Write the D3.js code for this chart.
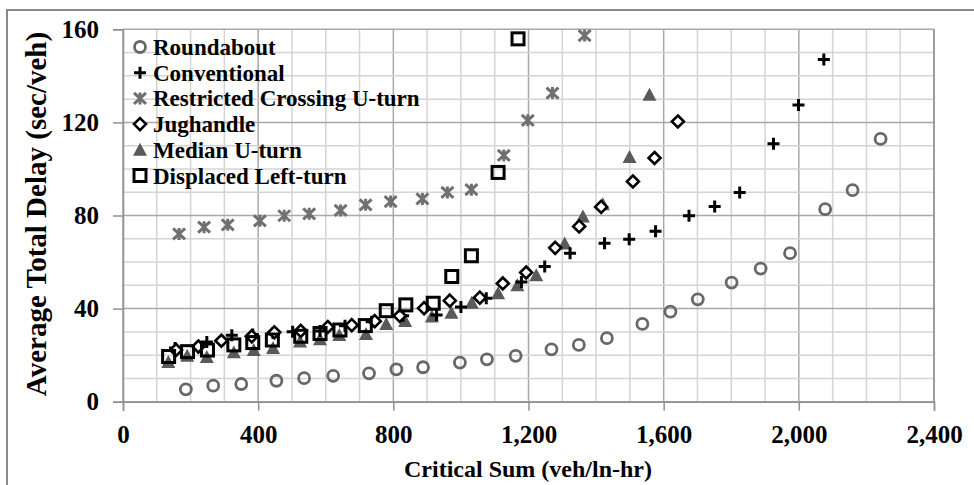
<!DOCTYPE html>
<html><head><meta charset="utf-8">
<script src="https://cdn.jsdelivr.net/npm/d3@7"></script>
<style>body{margin:0;background:#fff}svg{display:block}text{font-family:"Liberation Serif","Times New Roman",serif;font-weight:bold;fill:#000}</style>
</head><body><svg id="c" width="974" height="485"></svg>
<script>
const xTicks = [0, 400, 800, 1200, 1600, 2000, 2400];
const yTicks = [0, 40, 80, 120, 160];
const xTickLabels = ["0", "400", "800", "1,200", "1,600", "2,000", "2,400"];
const seriesNames = ["Roundabout", "Conventional", "Restricted Crossing U-turn", "Jughandle", "Median U-turn", "Displaced Left-turn"];

const roundaboutX = [186,267,350,454,536,622,728,809,888,997,1077,1162,1268,1349,1432,1537,1620,1701,1801,1887,1974,2078,2159,2242];
const roundaboutY = [5.3,6.9,7.6,9.0,10.1,11.1,12.2,13.9,14.8,16.8,18.2,19.7,22.5,24.4,27.3,33.4,38.7,44.0,51.2,57.2,63.8,82.7,90.9,112.9];

const conventionalX = [154,248,322,384,444,502,583,657,736,829,928,1000,1075,1179,1248,1323,1425,1498,1576,1675,1751,1825,1925,1999,2074];
const conventionalY = [23.1,25.7,28.5,28.9,29.5,30.1,30.4,32.6,34.3,36.9,37.2,40.7,44.5,51.4,58.1,63.8,68.1,69.8,73.2,79.9,83.9,89.9,110.8,127.5,147.0];

const rcutX = [166,240,310,405,477,551,644,718,792,886,960,1031,1127,1198,1271,1366];
const rcutY = [72.1,75.0,76.0,77.7,79.9,80.7,82.2,84.6,86.0,87.1,89.9,91.1,105.8,120.9,132.6,157.3];

const jughandleX = [157,223,291,381,448,526,606,677,745,819,891,967,1056,1124,1193,1279,1350,1415,1509,1573,1642];
const jughandleY = [22.2,23.7,26.2,28.1,29.8,30.4,32.1,32.9,34.6,36.9,40.2,43.4,44.7,50.8,55.5,66.1,75.3,83.7,94.6,104.7,120.4];

const medianX = [134,190,248,328,387,444,524,583,640,719,779,835,914,972,1032,1110,1167,1223,1307,1361,1420,1499,1558];
const medianY = [17.1,19.7,19.2,21.2,22.2,23.1,25.9,26.8,28.7,29.1,33.4,34.7,36.6,38.2,42.5,46.6,50.0,54.3,68.0,79.6,84.8,105.1,131.9];

const dltX = [135,191,250,328,384,442,526,583,642,717,779,837,918,973,1031,1110,1169];
const dltY = [19.4,21.5,22.2,24.4,25.4,26.5,28.1,29.3,30.8,32.7,39.1,41.6,42.3,53.8,62.7,98.5,155.9];

const svg = d3.select("#c");
const L = 123, R = 934, T = 29.3, B = 401.7;
const x = d3.scaleLinear().domain([0, 2400]).range([L, R]);
const y = d3.scaleLinear().domain([0, 160]).range([B, T]);

// outer border
svg.append("rect").attr("x", 7).attr("y", 10).attr("width", 990).attr("height", 500)
  .attr("fill", "none").attr("stroke", "#8a8a8a").attr("stroke-width", 2);

// grid
const g = svg.append("g");
g.selectAll(".vx").data(d3.range(0, 2401, 100)).join("line")
  .attr("x1", d => x(d)).attr("x2", d => x(d)).attr("y1", T).attr("y2", B)
  .attr("stroke", d => d % 400 === 0 ? "#a8a8a8" : "#d4d4d4").attr("stroke-width", 1.5);
g.selectAll(".hy").data(d3.range(0, 161, 10)).join("line")
  .attr("y1", d => y(d)).attr("y2", d => y(d)).attr("x1", L).attr("x2", R)
  .attr("stroke", d => d % 40 === 0 ? "#a8a8a8" : "#d4d4d4").attr("stroke-width", 1.5);
g.append("line").attr("x1", R).attr("x2", R).attr("y1", T).attr("y2", B).attr("stroke", "#909090").attr("stroke-width", 1.5);

const FONT = '"Liberation Serif","Times New Roman",serif';
// axes
const xAxis = d3.axisBottom(x).tickValues(xTicks).tickSize(9).tickFormat((d, i) => xTickLabels[i]);
const xa = svg.append("g").attr("transform", `translate(0,${B})`).call(xAxis);
xa.attr("font-family", FONT);
xa.select(".domain").attr("stroke", "#909090").attr("stroke-width", 1.5);
xa.selectAll(".tick line").attr("stroke", "#909090").attr("stroke-width", 1.5);
xa.selectAll(".tick text").attr("font-size", 25).attr("font-weight", "bold").attr("fill", "#000").attr("dy", "0.1em").attr("y", 39);

const yAxis = d3.axisLeft(y).tickValues(yTicks).tickSize(10).tickFormat(d3.format("d"));
const ya = svg.append("g").attr("transform", `translate(${L},0)`).call(yAxis);
ya.attr("font-family", FONT);
ya.select(".domain").attr("stroke", "#909090").attr("stroke-width", 1.5);
ya.selectAll(".tick line").attr("stroke", "#909090").attr("stroke-width", 1.5);
ya.selectAll(".tick text").attr("font-size", 25).attr("font-weight", "bold").attr("fill", "#000").attr("x", -24);

// titles
svg.append("text").attr("x", 528).attr("y", 477).attr("text-anchor", "middle").attr("font-size", 24).text("Critical Sum (veh/ln-hr)");
svg.append("text").attr("transform", "translate(46,214) rotate(-90)").attr("text-anchor", "middle").attr("font-size", 29).text("Average Total Delay (sec/veh)");

// marker drawers
function drawCircle(sel) { sel.append("circle").attr("r", 5.5).attr("fill", "none").attr("stroke", "#686868").attr("stroke-width", 2.8); }
function drawPlus(sel) { sel.append("path").attr("d", "M-6,0H6M0,-6V6").attr("stroke", "#000").attr("stroke-width", 3); }
function drawStar(sel) { sel.append("path").attr("d", "M-6,-5.5L6,5.5M6,-5.5L-6,5.5M0,-6V6").attr("stroke", "#707070").attr("stroke-width", 3); }
function drawDiamond(sel) { sel.append("path").attr("d", "M0,-6L6,0L0,6L-6,0Z").attr("fill", "#fff").attr("stroke", "#000").attr("stroke-width", 2.6); }
function drawTri(sel) { sel.append("path").attr("d", "M0,-7L7,6H-7Z").attr("fill", "#5a5a5a"); }
function drawSquare(sel) { sel.append("rect").attr("x", -6).attr("y", -6).attr("width", 12).attr("height", 12).attr("fill", "none").attr("stroke", "#000").attr("stroke-width", 3); }

const series = [
  {xs: medianX, ys: medianY, f: drawTri},
  {xs: roundaboutX, ys: roundaboutY, f: drawCircle},
  {xs: rcutX, ys: rcutY, f: drawStar},
  {xs: conventionalX, ys: conventionalY, f: drawPlus},
  {xs: jughandleX, ys: jughandleY, f: drawDiamond},
  {xs: dltX, ys: dltY, f: drawSquare}
];
series.forEach(s => {
  const pts = s.xs.map((v, i) => [v, s.ys[i]]);
  svg.append("g").selectAll("g").data(pts).join("g")
    .attr("transform", d => `translate(${x(d[0])},${y(d[1])})`)
    .each(function() { s.f(d3.select(this)); });
});

// legend
const legFns = [drawCircle, drawPlus, drawStar, drawDiamond, drawTri, drawSquare];
const leg = svg.append("g");
seriesNames.forEach((n, i) => {
  const gy = 47 + i * 25.7;
  const lg = leg.append("g").attr("transform", `translate(140,${gy})`);
  legFns[i](lg);
  lg.append("text").attr("x", 13).attr("y", 8).attr("font-size", 23).text(n);
});
</script></body></html>
